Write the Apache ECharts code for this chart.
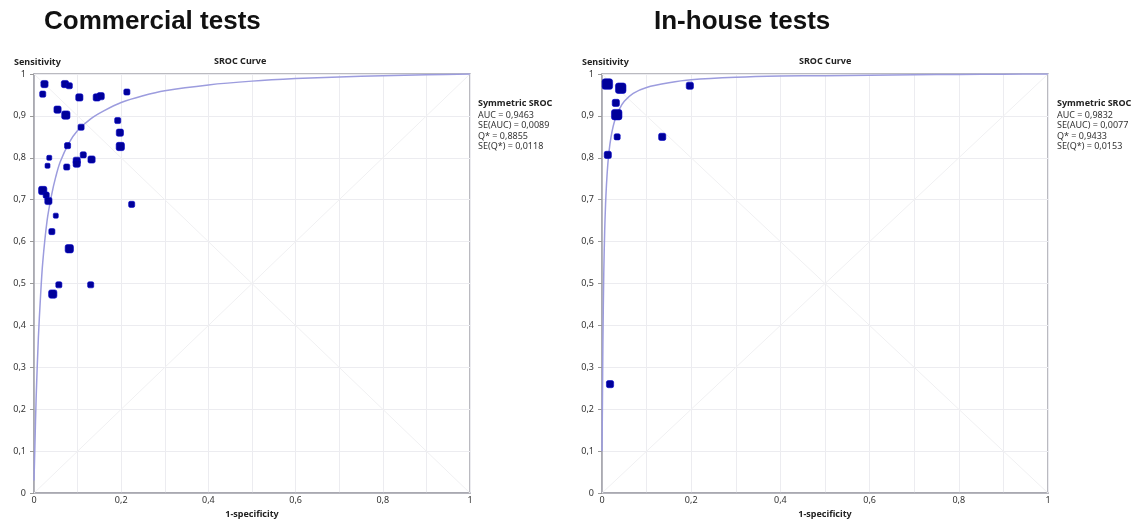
<!DOCTYPE html>
<html><head><meta charset="utf-8">
<script src="https://cdn.jsdelivr.net/npm/echarts@6/dist/echarts.min.js"></script>
<style>html,body{margin:0;padding:0;background:#fff}#c{width:1140px;height:524px}</style>
</head><body><div id="c"></div>
<script>
// ---- data ----
const panelTitles = ['Commercial tests', 'In-house tests'];
const xTicks = [0, 0.2, 0.4, 0.6, 0.8, 1];
const yTicks = [0, 0.1, 0.2, 0.3, 0.4, 0.5, 0.6, 0.7, 0.8, 0.9, 1];

// Commercial tests: study points (1-specificity, sensitivity, relative weight)
const commFpr  = [0.024,0.020,0.071,0.081,0.104,0.144,0.153,0.213,0.054,0.073,0.108,0.192,0.197,0.198,0.077,0.035,0.031,0.075,0.098,0.098,0.113,0.132,0.020,0.028,0.033,0.224,0.050,0.041,0.081,0.057,0.130,0.043];
const commSens = [0.976,0.952,0.976,0.972,0.944,0.944,0.947,0.957,0.915,0.902,0.873,0.889,0.860,0.827,0.829,0.800,0.781,0.778,0.793,0.786,0.807,0.796,0.722,0.711,0.697,0.689,0.662,0.624,0.583,0.497,0.497,0.475];
const commWeight = [2,1,2,1,2,2,2,1,2,3,1,1,2,3,1,0,0,1,2,2,1,2,3,1,2,1,0,1,3,1,1,3];

// In-house tests
const houseFpr  = [0.012,0.042,0.197,0.031,0.033,0.034,0.135,0.013,0.018];
const houseSens = [0.976,0.966,0.972,0.931,0.903,0.850,0.850,0.807,0.260];
const houseWeight = [5,5,2,2,5,1,2,2,2];

// Symmetric SROC curves
const commCurveFpr  = [0,0.002,0.005,0.01,0.015,0.02,0.03,0.04,0.05,0.06,0.08,0.1,0.13,0.16,0.2,0.25,0.3,0.4,0.5,0.6,0.7,0.8,0.9,1];
const commCurveSens = [0.03,0.11,0.23,0.37,0.47,0.55,0.65,0.71,0.755,0.79,0.835,0.865,0.893,0.912,0.932,0.948,0.96,0.974,0.983,0.989,0.993,0.996,0.998,1];
const houseCurveFpr  = [0,0.001,0.002,0.004,0.006,0.008,0.01,0.013,0.016,0.02,0.025,0.03,0.04,0.05,0.07,0.1,0.15,0.2,0.3,0.4,0.5,0.6,0.7,0.8,0.9,1];
const houseCurveSens = [0.1,0.216,0.357,0.526,0.625,0.69,0.735,0.784,0.817,0.848,0.875,0.893,0.918,0.935,0.954,0.968,0.979,0.986,0.992,0.995,0.996,0.997,0.998,0.999,0.9995,1];

const diagUp = [[0,0],[1,1]];
const diagDown = [[0,1],[1,0]];

const commStats  = ['AUC = 0,9463','SE(AUC) = 0,0089','Q* = 0,8855','SE(Q*) = 0,0118'];
const houseStats = ['AUC = 0,9832','SE(AUC) = 0,0077','Q* = 0,9433','SE(Q*) = 0,0153'];

// ---- chart ----
const FONT = 'Noto Sans';
const fmt = v => { if (Math.abs(v) < 1e-9) return '0'; if (Math.abs(v-1) < 1e-9) return '1'; return v.toFixed(1).replace('.', ','); };
const zip = (a, b) => a.map((v, i) => [v, b[i]]);
const sizeOf = w => 5 + w * 1.1;

const grids = [
  {left: 34, right: 670, top: 74, bottom: 26},
  {left: 602, right: 92, top: 74, bottom: 26}
];

function xAx(i) {
  return {
    type: 'value', gridIndex: i, min: 0, max: 1, interval: 0.2,
    name: '1-specificity', nameLocation: 'middle', nameGap: 14,
    nameTextStyle: {fontFamily: FONT, fontSize: 9, fontWeight: 'bold', color: '#222'},
    axisLine: {show: true, lineStyle: {color: '#a4a4ac', width: 1.5}},
    axisTick: {show: false},
    axisLabel: {fontFamily: FONT, fontSize: 9, color: '#333', margin: 3, formatter: fmt},
    splitLine: {show: true, lineStyle: {color: '#ececf0', width: 1}},
    minorTick: {show: false, splitNumber: 2},
    minorSplitLine: {show: true, lineStyle: {color: '#ececf0', width: 1}}
  };
}
function yAx(i) {
  return {
    type: 'value', gridIndex: i, min: 0, max: 1, interval: 0.1,
    name: 'Sensitivity', nameLocation: 'end', nameGap: 7,
    nameTextStyle: {fontFamily: FONT, fontSize: 9, fontWeight: 'bold', color: '#222', align: 'left', padding: [0, 0, 0, -20]},
    axisLine: {show: true, lineStyle: {color: '#a4a4ac', width: 1.5}},
    axisTick: {show: true, length: 4, lineStyle: {color: '#999'}},
    axisLabel: {fontFamily: FONT, fontSize: 9, color: '#333', margin: 8, formatter: fmt},
    splitLine: {show: true, lineStyle: {color: '#ececf0', width: 1}}
  };
}

function panelSeries(i, fpr, sens, w, cfpr, csens) {
  return [
    {type: 'line', xAxisIndex: i, yAxisIndex: i, data: diagUp, symbol: 'none', silent: true,
     lineStyle: {color: '#f0f0f2', width: 1}, z: 1},
    {type: 'line', xAxisIndex: i, yAxisIndex: i, data: diagDown, symbol: 'none', silent: true,
     lineStyle: {color: '#f0f0f2', width: 1}, z: 1},
    {type: 'line', xAxisIndex: i, yAxisIndex: i, data: zip(cfpr, csens), symbol: 'none', smooth: 0.3,
     lineStyle: {color: '#9c9cde', width: 1.5}, z: 2},
    {type: 'scatter', xAxisIndex: i, yAxisIndex: i,
     data: fpr.map((x, k) => ({value: [x, sens[k]], symbolSize: sizeOf(w[k])})),
     symbol: 'roundRect',
     itemStyle: {color: '#00009a', borderColor: '#0000c8', borderWidth: 0.6, opacity: 1}, z: 3}
  ];
}

function statsGraphic(x, lines) {
  return [
    {type: 'text', left: x, top: 99, style: {text: 'Symmetric SROC', font: 'bold 9px "Noto Sans"', fill: '#222'}},
    {type: 'text', left: x, top: 110, style: {text: lines.join('\n'), font: '9px "Noto Sans"', fill: '#333', lineHeight: 10.5}}
  ];
}

const chart = echarts.init(document.getElementById('c'), null, {renderer: 'canvas'});
chart.setOption({
  backgroundColor: '#fff',
  animation: false,
  title: [
    {text: panelTitles[0], left: 39, top: 4, textStyle: {fontFamily: 'Liberation Sans', fontSize: 26, fontWeight: 'bold', color: '#111'}},
    {text: panelTitles[1], left: 649, top: 4, textStyle: {fontFamily: 'Liberation Sans', fontSize: 26, fontWeight: 'bold', color: '#111'}}
  ],
  grid: grids.map(g => Object.assign({show: true, borderColor: '#a4a4ac', borderWidth: 1.5, backgroundColor: '#fff'}, g)),
  xAxis: [xAx(0), xAx(1)],
  yAxis: [yAx(0), yAx(1)],
  graphic: [
    {type: 'text', left: 214, top: 57, style: {text: 'SROC Curve', font: 'bold 9px "Noto Sans"', fill: '#222'}},
    {type: 'text', left: 799, top: 57, style: {text: 'SROC Curve', font: 'bold 9px "Noto Sans"', fill: '#222'}}
  ].concat(statsGraphic(478, commStats), statsGraphic(1057, houseStats)),
  series: [].concat(
    panelSeries(0, commFpr, commSens, commWeight, commCurveFpr, commCurveSens),
    panelSeries(1, houseFpr, houseSens, houseWeight, houseCurveFpr, houseCurveSens)
  )
});
</script>
</body></html>
